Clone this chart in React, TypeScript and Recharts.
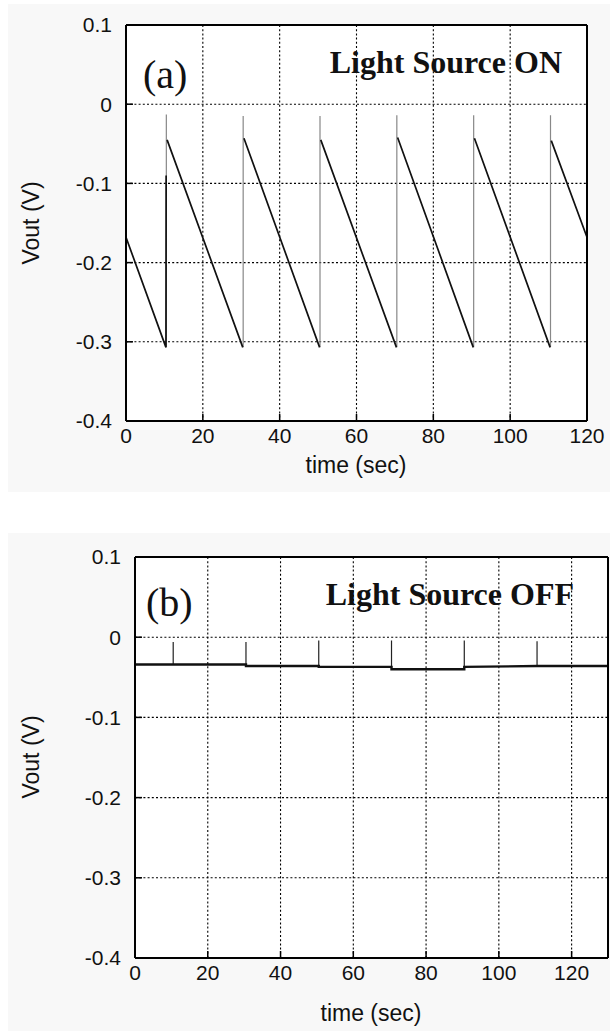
import { CartesianGrid, Line, LineChart, XAxis, YAxis } from "recharts";

type Pt = [number, number | null];

// (a) light source ON: output ramps down, reset pulse every ~20 s
const rampOn: Pt[] = [
  [0, -0.168], [10.4, -0.307], [10.45, -0.09], [10.45, null],
  [10.7, -0.045], [30.4, -0.307], [30.4, null],
  [30.7, -0.043], [50.4, -0.307], [50.4, null],
  [50.7, -0.045], [70.4, -0.307], [70.4, null],
  [70.7, -0.042], [90.4, -0.307], [90.4, null],
  [90.7, -0.043], [110.4, -0.307], [110.4, null],
  [110.7, -0.046], [120, -0.168],
];
const resetOn: Pt[] = [
  [10.5, -0.307], [10.5, -0.013], [10.5, null],
  [30.5, -0.307], [30.5, -0.015], [30.5, null],
  [50.5, -0.307], [50.5, -0.015], [50.5, null],
  [70.5, -0.307], [70.5, -0.014], [70.5, null],
  [90.5, -0.307], [90.5, -0.014], [90.5, null],
  [110.5, -0.307], [110.5, -0.014],
];

// (b) light source OFF: flat dark level with small reset spikes
const levelOff: Pt[] = [
  [0, -0.034], [10.5, -0.034], [30.5, -0.034], [30.5, -0.036],
  [50.5, -0.036], [50.5, -0.037], [70.5, -0.037], [70.5, -0.040],
  [90.5, -0.040], [90.5, -0.037], [110.5, -0.036], [130, -0.036],
];
const resetOff: Pt[] = [
  [10.5, -0.034], [10.5, -0.006], [10.5, null],
  [30.5, -0.036], [30.5, -0.006], [30.5, null],
  [50.5, -0.037], [50.5, -0.004], [50.5, null],
  [70.5, -0.040], [70.5, -0.004], [70.5, null],
  [90.5, -0.040], [90.5, -0.004], [90.5, null],
  [110.5, -0.036], [110.5, -0.005],
];

const xTicks = [0, 20, 40, 60, 80, 100, 120];
const yTicks = [-0.4, -0.3, -0.2, -0.1, 0, 0.1];

const SANS = "'Liberation Sans', Arial, Helvetica, sans-serif";
const SERIF = "'Liberation Serif', 'Times New Roman', serif";

const tickStyle = { fontSize: 21, fill: "#111", fontFamily: SANS };
const tickLine = { stroke: "#000", strokeWidth: 1.5 };
const frame = { stroke: "#000", strokeWidth: 2 };
const fmtY = (v: number) => (v === 0 ? "0" : v.toFixed(1));
const rows = (pts: Pt[]) => pts.map(([t, v]) => ({ t, v }));

interface Series {
  pts: Pt[];
  color: string;
  width: number;
}

interface ScopeProps {
  w: number;
  h: number;
  left: number;
  top: number;
  plotW: number;
  plotH: number;
  xMax: number;
  lines: Series[];
}

function Scope({ w, h, left, top, plotW, plotH, xMax, lines }: ScopeProps) {
  return (
    <LineChart
      width={w}
      height={h}
      margin={{ top: top - 1, right: w - left - plotW - 1, bottom: h - top - plotH - 71, left: 0 }}
    >
      <CartesianGrid stroke="#000" strokeWidth={1.1} strokeDasharray="2 2.2" fill="#fff" />
      <XAxis
        dataKey="t"
        type="number"
        domain={[0, xMax]}
        ticks={xTicks}
        interval={0}
        height={71}
        axisLine={frame}
        tickLine={tickLine}
        tickSize={-7}
        tickMargin={14}
        tick={tickStyle}
      />
      <XAxis
        xAxisId="top"
        orientation="top"
        type="number"
        domain={[0, xMax]}
        ticks={xTicks}
        interval={0}
        height={1}
        axisLine={frame}
        tickLine={tickLine}
        tickSize={-7}
        tick={false}
      />
      <YAxis
        type="number"
        domain={[-0.4, 0.1]}
        ticks={yTicks}
        interval={0}
        width={left}
        axisLine={frame}
        tickLine={tickLine}
        tickSize={-7}
        tickMargin={21}
        tick={tickStyle}
        tickFormatter={fmtY}
      />
      <YAxis
        yAxisId="right"
        orientation="right"
        type="number"
        domain={[-0.4, 0.1]}
        ticks={yTicks}
        interval={0}
        width={1}
        axisLine={frame}
        tickLine={tickLine}
        tickSize={-7}
        tick={false}
      />
      {lines.map((s, i) => (
        <Line
          key={i}
          data={rows(s.pts)}
          dataKey="v"
          type="linear"
          stroke={s.color}
          strokeWidth={s.width}
          dot={false}
          connectNulls={false}
          isAnimationActive={false}
        />
      ))}
    </LineChart>
  );
}

export default function App() {
  return (
    <div style={{ position: "absolute", left: 0, top: 0, width: 610, height: 1031, background: "#fff" }}>
      <div style={{ position: "absolute", left: 8, top: 4, width: 602, height: 488, background: "#f8f8f8" }}>
        <Scope
          w={602}
          h={488}
          left={118}
          top={21}
          plotW={461}
          plotH={396}
          xMax={120}
          lines={[
            { pts: resetOn, color: "#888", width: 1.2 },
            { pts: rampOn, color: "#111", width: 1.7 },
          ]}
        />
      </div>
      <div style={{ position: "absolute", left: 8, top: 533, width: 602, height: 498, background: "#f8f8f8" }}>
        <Scope
          w={602}
          h={498}
          left={127}
          top={24}
          plotW={473}
          plotH={401}
          xMax={130}
          lines={[
            { pts: resetOff, color: "#222", width: 1.2 },
            { pts: levelOff, color: "#111", width: 2.4 },
          ]}
        />
      </div>
      <svg
        width={610}
        height={1031}
        style={{ position: "absolute", left: 0, top: 0, pointerEvents: "none" }}
      >
        <g fontFamily={SERIF} fill="#111">
          <text x={143} y={88} fontSize={40}>(a)</text>
          <text x={562} y={73} fontSize={32} fontWeight="bold" textAnchor="end">Light Source ON</text>
          <text x={146} y={616} fontSize={40}>(b)</text>
          <text x={574} y={605} fontSize={32} fontWeight="bold" textAnchor="end">Light Source OFF</text>
        </g>
        <g fontFamily={SANS} fontSize={23} fill="#111" textAnchor="middle">
          <text transform="translate(39,223) rotate(-90)">Vout (V)</text>
          <text x={356} y={473}>time (sec)</text>
          <text transform="translate(39,757) rotate(-90)">Vout (V)</text>
          <text x={371} y={1021}>time (sec)</text>
        </g>
      </svg>
    </div>
  );
}
